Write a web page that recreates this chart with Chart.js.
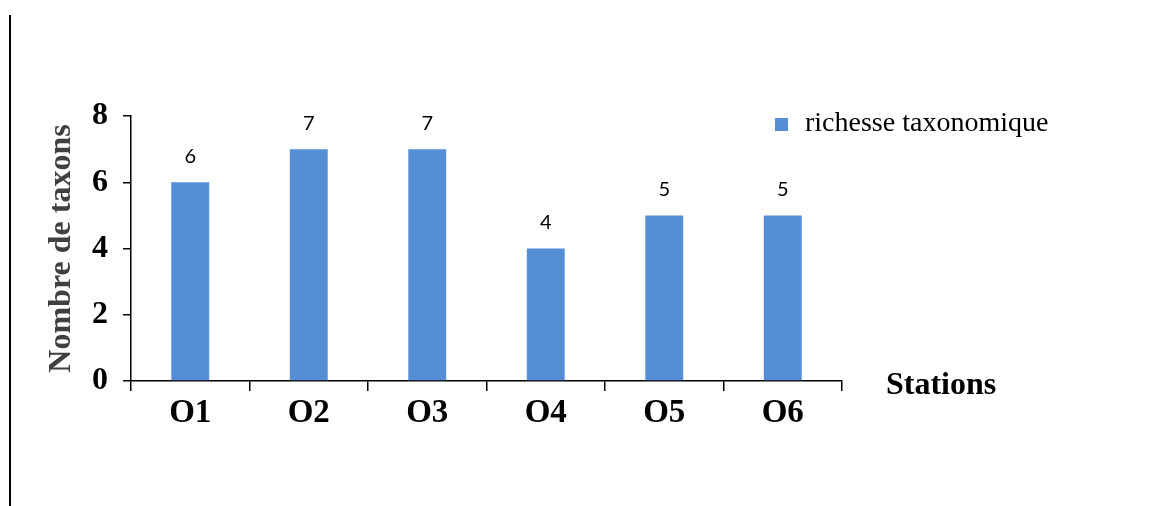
<!DOCTYPE html>
<html>
<head>
<meta charset="utf-8">
<script src="https://cdn.jsdelivr.net/npm/chart.js@4/dist/chart.umd.min.js"></script>
<style>
  html, body { margin: 0; padding: 0; background: #fff; }
  #wrap { width: 1175px; height: 506px; }
</style>
</head>
<body>
<div id="wrap"><canvas id="c" width="1175" height="506"></canvas></div>
<script>
// Stations and taxonomic richness per station
const stations = ['O1', 'O2', 'O3', 'O4', 'O5', 'O6'];
const richesse = [6, 7, 7, 4, 5, 5];
const yTicks = [0, 2, 4, 6, 8];

const seriesName = 'richesse taxonomique';
const barColor = '#558ed5';
const serif = '"Liberation Serif", "DejaVu Serif", serif';

// Value written above each bar
const valueLabels = {
  id: 'valueLabels',
  afterDatasetsDraw(chart) {
    const ctx = chart.ctx;
    const meta = chart.getDatasetMeta(0);
    ctx.save();
    ctx.font = '20px Lato, "Open Sans", sans-serif';
    ctx.fillStyle = '#000';
    ctx.textAlign = 'center';
    ctx.textBaseline = 'middle';
    meta.data.forEach((bar, i) => {
      ctx.fillText(String(chart.data.datasets[0].data[i]), bar.x, bar.y - 26);
    });
    ctx.restore();
  }
};

// Legend entry, axis name to the right of the x axis, and left frame rule
const decorations = {
  id: 'decorations',
  afterDraw(chart) {
    const ctx = chart.ctx;
    const ds = chart.data.datasets[0];
    ctx.save();
    // left rule
    ctx.fillStyle = '#000';
    ctx.fillRect(9, 15, 2, 491);
    // legend
    ctx.fillStyle = ds.backgroundColor;
    ctx.fillRect(775, 118, 13, 13);
    ctx.fillStyle = '#000';
    ctx.font = '28px ' + serif;
    ctx.textAlign = 'left';
    ctx.textBaseline = 'alphabetic';
    ctx.fillText(ds.label, 805, 131);
    // x axis name
    ctx.font = 'bold 32px ' + serif;
    ctx.fillText('Stations', 886, 394);
    ctx.restore();
  }
};

new Chart(document.getElementById('c'), {
  type: 'bar',
  data: {
    labels: stations,
    datasets: [{
      label: seriesName,
      data: richesse,
      backgroundColor: barColor,
      borderWidth: 0,
      categoryPercentage: 1,
      barPercentage: 0.32
    }]
  },
  options: {
    responsive: false,
    animation: false,
    devicePixelRatio: 1,
    layout: { padding: { top: 116, right: 333, left: 0, bottom: 0 } },
    plugins: {
      legend: { display: false },
      tooltip: { enabled: false }
    },
    scales: {
      x: {
        grid: {
          display: true,
          drawOnChartArea: false,
          drawTicks: true,
          tickLength: 10,
          color: '#000',
          lineWidth: 1.5,
          offset: true
        },
        border: { display: true, color: '#000', width: 1.5 },
        ticks: {
          color: '#000',
          padding: 3,
          font: { family: serif, size: 33, weight: 'bold' }
        },
        afterFit(scale) { scale.height = 125; }
      },
      y: {
        min: 0,
        max: 8,
        afterBuildTicks(scale) { scale.ticks = yTicks.map(v => ({ value: v })); },
        grid: {
          display: true,
          drawOnChartArea: false,
          drawTicks: true,
          tickLength: 8,
          color: '#000',
          lineWidth: 1.5
        },
        border: { display: true, color: '#000', width: 1.5 },
        ticks: {
          color: '#000',
          padding: 15,
          font: { family: serif, size: 32, weight: 'bold' }
        },
        title: {
          display: true,
          text: 'Nombre de taxons',
          color: '#404040',
          padding: { top: 43, bottom: 0 },
          font: { family: serif, size: 32, weight: 'bold' }
        },
        afterFit(scale) { scale.width = 131; }
      }
    }
  },
  plugins: [valueLabels, decorations]
});
</script>
</body>
</html>
